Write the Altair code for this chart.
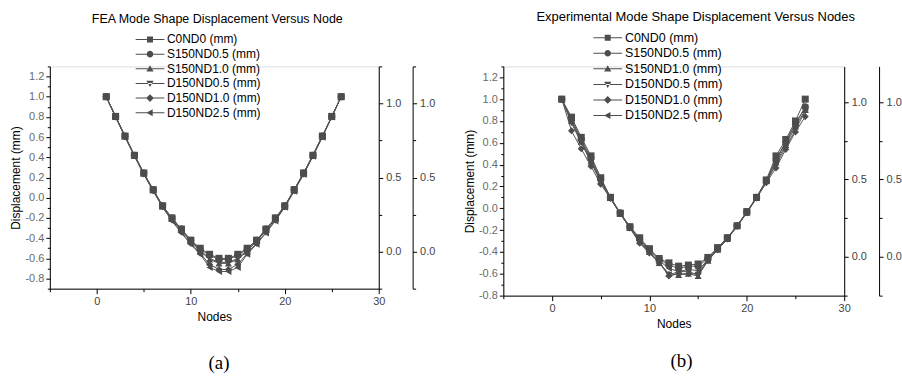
import altair as alt
import pandas as pd

FONT = "Liberation Sans"
SERIF = "Liberation Serif"
MARK = "#4d4d4d"

NODES = list(range(1, 27))
SERIES = ["C0ND0 (mm)", "S150ND0.5 (mm)", "S150ND1.0 (mm)",
          "D150ND0.5 (mm)", "D150ND1.0 (mm)", "D150ND2.5 (mm)"]
PLOT_SHAPES = ["square", "circle", "triangle-up", "triangle-down", "diamond", "triangle-left"]
# legend symbols: thin filled bar (the line) + marker
BAR = "M-4.8,-0.17L4.8,-0.17L4.8,0.17L-4.8,0.17Z"
LEG_SHAPES = [
    BAR + "M-1,-1L1,-1L1,1L-1,1Z",
    BAR + "M1.1,0A1.1,1.1,0,1,1,-1.1,0A1.1,1.1,0,1,1,1.1,0Z",
    BAR + "M0,-1.2L1.2,0.9L-1.2,0.9Z",
    BAR + "M0,1.2L1.2,-0.9L-1.2,-0.9Z",
    BAR + "M0,-1.3L1.3,0L0,1.3L-1.3,0Z",
    BAR + "M-1.2,0L0.9,-1.2L0.9,1.2Z",
]

# (a) FEA mode shape
FEA_C0ND0 = [1.00, 0.805, 0.61, 0.42, 0.245, 0.08, -0.08, -0.20, -0.31, -0.42, -0.50, -0.56, -0.60, -0.60, -0.56, -0.50, -0.42, -0.31, -0.20, -0.08, 0.08, 0.245, 0.42, 0.61, 0.805, 1.00]
FEA_S150ND05 = [1.00, 0.805, 0.61, 0.42, 0.245, 0.08, -0.08, -0.20, -0.31, -0.42, -0.51, -0.57, -0.61, -0.61, -0.57, -0.51, -0.42, -0.31, -0.20, -0.08, 0.08, 0.245, 0.42, 0.61, 0.805, 1.00]
FEA_S150ND10 = [1.00, 0.80, 0.61, 0.42, 0.24, 0.075, -0.085, -0.21, -0.32, -0.43, -0.53, -0.61, -0.65, -0.65, -0.61, -0.53, -0.43, -0.32, -0.21, -0.085, 0.075, 0.24, 0.42, 0.61, 0.80, 1.00]
FEA_D150ND05 = [1.00, 0.80, 0.61, 0.42, 0.24, 0.075, -0.085, -0.21, -0.32, -0.43, -0.52, -0.60, -0.64, -0.64, -0.60, -0.52, -0.43, -0.32, -0.21, -0.085, 0.075, 0.24, 0.42, 0.61, 0.80, 1.00]
FEA_D150ND10 = [1.00, 0.80, 0.605, 0.415, 0.235, 0.07, -0.09, -0.22, -0.34, -0.45, -0.55, -0.66, -0.71, -0.71, -0.66, -0.55, -0.45, -0.34, -0.22, -0.09, 0.07, 0.235, 0.415, 0.605, 0.80, 1.00]
FEA_D150ND25 = [1.00, 0.80, 0.60, 0.41, 0.23, 0.065, -0.095, -0.23, -0.35, -0.46, -0.56, -0.69, -0.73, -0.73, -0.69, -0.56, -0.46, -0.35, -0.23, -0.095, 0.065, 0.23, 0.41, 0.60, 0.80, 1.00]

# (b) experimental mode shape
EXP_C0ND0 = [1.00, 0.835, 0.65, 0.48, 0.28, 0.10, -0.045, -0.17, -0.27, -0.37, -0.46, -0.50, -0.53, -0.52, -0.51, -0.45, -0.36, -0.27, -0.16, -0.03, 0.10, 0.26, 0.48, 0.63, 0.80, 1.00]
EXP_S150ND05 = [1.00, 0.82, 0.63, 0.46, 0.27, 0.10, -0.04, -0.17, -0.28, -0.38, -0.47, -0.52, -0.55, -0.53, -0.53, -0.46, -0.37, -0.27, -0.16, -0.035, 0.10, 0.25, 0.44, 0.60, 0.77, 0.93]
EXP_S150ND10 = [1.00, 0.80, 0.61, 0.43, 0.25, 0.095, -0.05, -0.18, -0.30, -0.40, -0.50, -0.60, -0.61, -0.60, -0.62, -0.48, -0.38, -0.28, -0.16, -0.04, 0.10, 0.25, 0.42, 0.58, 0.75, 0.90]
EXP_D150ND05 = [1.00, 0.78, 0.60, 0.42, 0.24, 0.09, -0.05, -0.18, -0.31, -0.41, -0.49, -0.61, -0.58, -0.58, -0.61, -0.48, -0.38, -0.28, -0.17, -0.04, 0.09, 0.24, 0.40, 0.56, 0.72, 0.89]
EXP_D150ND10 = [1.00, 0.71, 0.545, 0.385, 0.22, 0.09, -0.05, -0.18, -0.32, -0.41, -0.50, -0.62, -0.60, -0.60, -0.60, -0.47, -0.38, -0.28, -0.16, -0.04, 0.095, 0.235, 0.37, 0.54, 0.70, 0.84]
EXP_D150ND25 = [1.00, 0.80, 0.62, 0.44, 0.26, 0.10, -0.045, -0.17, -0.29, -0.39, -0.48, -0.55, -0.58, -0.56, -0.57, -0.47, -0.37, -0.27, -0.16, -0.035, 0.10, 0.25, 0.45, 0.61, 0.78, 0.92]

X_TICKS = [-5, 0, 5, 10, 15, 20, 25, 30]
YA_TICKS = [-0.9, -0.8, -0.7, -0.6, -0.5, -0.4, -0.3, -0.2, -0.1, 0.0, 0.1, 0.2, 0.3, 0.4, 0.5, 0.6, 0.7, 0.8, 0.9, 1.0, 1.1, 1.2, 1.3]
YB_TICKS = [-0.8, -0.7, -0.6, -0.5, -0.4, -0.3, -0.2, -0.1, 0.0, 0.1, 0.2, 0.3, 0.4, 0.5, 0.6, 0.7, 0.8, 0.9, 1.0, 1.1, 1.2, 1.3]
R_TICKS = [-0.25, 0.0, 0.25, 0.5, 0.75, 1.0, 1.25]

TITLE_A = "FEA Mode Shape Displacement Versus Node"
TITLE_B = "Experimental Mode Shape Displacement Versus Nodes"


def long_df(cols):
    rows = []
    for name, vals in zip(SERIES, cols):
        for n, v in zip(NODES, vals):
            rows.append({"node": n, "disp": v, "series": name})
    return pd.DataFrame(rows)


def fix_minus(cond):
    return f"{cond} ? replace(datum.label, '\u2212', '-') : ''"


def panel(df, title, w, h, ydom, yticks, rdom, r2off, legx, legy, tsize, lsize, rowpad,
          tdx, toff, cap, capnode, capy):
    xenc = alt.X("node:Q", scale=alt.Scale(domain=[-5, 30], nice=False, zero=False),
                 axis=alt.Axis(values=X_TICKS, format="d",
                               labelExpr=fix_minus("datum.value % 10 == 0"),
                               tickSize={"condition": {"test": "datum.value % 10 == 0", "value": 5}, "value": 3},
                               title="Nodes", titleFont=FONT, titleFontSize=12,
                               titleFontWeight="normal", titleColor="#000", titlePadding=5,
                               labelFont=FONT, labelFontSize=11, labelColor="#444",
                               labelPadding=2, domainColor="#000", tickColor="#000",
                               grid=False, labelFlush=False, labelOverlap=False))
    yenc = alt.Y("disp:Q", scale=alt.Scale(domain=ydom, nice=False, zero=False),
                 axis=alt.Axis(orient="left", values=yticks, format=".1f",
                               labelExpr=fix_minus("abs(round(datum.value*10)) % 2 == 0"),
                               tickSize={"condition": {"test": "abs(round(datum.value*10)) % 2 == 0", "value": 4}, "value": 2.5},
                               title="Displacement (mm)", titleFont=FONT, titleFontSize=12,
                               titleFontWeight="normal", titleColor="#000", titlePadding=2,
                               labelFont=FONT, labelFontSize=11, labelColor="#6a6a6a",
                               labelPadding=2, domainColor="#000", tickColor="#000",
                               grid=False, labelFlush=False, labelOverlap=False))
    base = alt.Chart(df)
    lines = base.mark_line(color="#555555", strokeWidth=1).encode(
        x=xenc, y=yenc, detail="series:N")
    pts = base.mark_point(filled=True, color=MARK, size=50, opacity=1).encode(
        x=xenc, y=yenc,
        shape=alt.Shape("series:N", scale=alt.Scale(domain=SERIES, range=PLOT_SHAPES), legend=None))
    main = alt.layer(lines, pts)

    leg = base.mark_point(filled=True, color=MARK, size=36, opacity=0).encode(
        x=xenc,
        y=alt.Y("disp:Q", scale=alt.Scale(domain=ydom, nice=False, zero=False), axis=None),
        shape=alt.Shape("series:N", scale=alt.Scale(domain=SERIES, range=LEG_SHAPES),
                        legend=alt.Legend(orient="none", legendX=legx, legendY=legy,
                                          title=None, labelFont=FONT, labelFontSize=lsize,
                                          labelColor="#000", symbolSize=36, symbolOpacity=1,
                                          symbolStrokeWidth=0, symbolFillColor=MARK,
                                          labelOffset=11, rowPadding=rowpad, padding=0,
                                          direction="vertical")))

    def raxis(off):
        return base.mark_point(opacity=0).encode(
            x=xenc,
            y=alt.Y("disp:Q", scale=alt.Scale(domain=rdom, nice=False, zero=False),
                    axis=alt.Axis(orient="right", offset=off, values=R_TICKS, format=".1f",
                                  labelExpr=fix_minus("abs(round(datum.value*4)) % 2 == 0"),
                                  tickSize={"condition": {"test": "abs(round(datum.value*4)) % 2 == 0", "value": 4}, "value": 3},
                                  title=None, labelFont=FONT, labelFontSize=11,
                                  labelColor="#444", labelPadding=3, domainColor="#000",
                                  tickColor="#000", grid=False, labelFlush=False,
                                  labelOverlap=False)))

    capc = alt.Chart(pd.DataFrame({"cap": [cap], "node": [capnode]})).mark_text(
        font=SERIF, fontSize=19, color="#000", align="center", baseline="middle").encode(
        x=xenc, y=alt.value(capy), text="cap:N")

    return alt.layer(main, leg, raxis(0), raxis(r2off), capc).resolve_scale(
        y="independent", shape="independent").properties(
        width=w, height=h,
        title=alt.TitleParams(title, font=FONT, fontSize=tsize, fontWeight="normal",
                              color="#000", anchor="middle", frame="group",
                              dx=tdx, offset=toff))


dfa = long_df([FEA_C0ND0, FEA_S150ND05, FEA_S150ND10, FEA_D150ND05, FEA_D150ND10, FEA_D150ND25])
dfb = long_df([EXP_C0ND0, EXP_S150ND05, EXP_S150ND10, EXP_D150ND05, EXP_D150ND10, EXP_D150ND25])

pa = panel(dfa, TITLE_A, 330, 223, [-0.9, 1.3], YA_TICKS, [-0.25, 1.25], 34,
           94.5, -33, 12.5, 12, 2.7, 3, 8, "(a)", 13, 298)
pb = panel(dfb, TITLE_B, 342, 230, [-0.8, 1.3], YB_TICKS, [-0.25, 1.23], 35,
           98.5, -35, 13, 12.5, 2.6, 22, 8, "(b)", 13.3, 296)

chart = alt.hconcat(pa, pb, spacing=125, bounds="flush").properties(
    padding={"left": 9, "top": 9, "right": 0, "bottom": 0}
).configure_view(strokeWidth=0).configure(font=FONT)

chart.save("out.html", embed_options={"renderer": "svg", "actions": False})
